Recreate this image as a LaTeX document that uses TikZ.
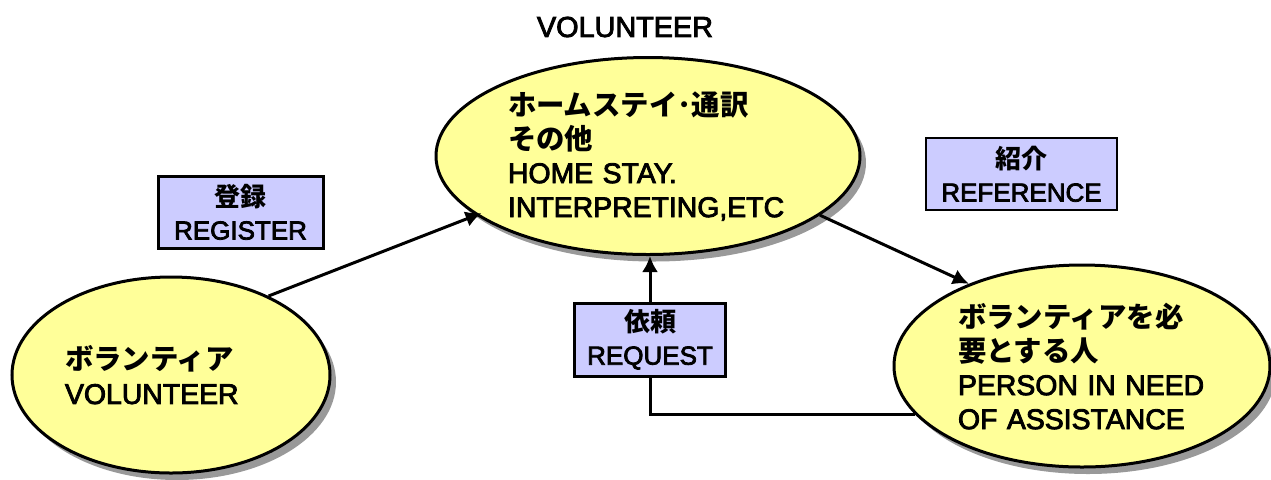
\documentclass[tikz,border=0pt]{standalone}
\usepackage{fontspec}
\setmainfont{Liberation Sans}[FakeBold=3]
\newfontfamily\jp{Noto Sans CJK JP}
\usetikzlibrary{shapes.geometric,shadows,arrows.meta}

\definecolor{bubblefill}{RGB}{255,255,153}
\definecolor{tagfill}{RGB}{204,204,255}
\newcommand{\ja}[1]{{\jp\bfseries #1}}

\begin{document}
\begin{tikzpicture}[x=0.5pt,y=-0.5pt,
    bubble/.style={ellipse,draw,line width=1.5pt,fill=bubblefill,inner sep=0pt,
      align=left,font=\fontsize{14.2pt}{17pt}\selectfont,
      drop shadow={shadow xshift=3pt,shadow yshift=-3.5pt,fill=black!40,opacity=1}},
    tag/.style={rectangle,draw,line width=1.5pt,fill=tagfill,inner sep=0pt,
      align=center,font=\fontsize{13pt}{16.5pt}\selectfont},
    link/.style={line width=1.5pt,-{Latex[length=8pt,width=8pt]}}]
    \useasboundingbox (0,0) rectangle (1271,479);

    \node[font=\fontsize{14.4pt}{17pt}\selectfont] (title) at (625,27) {VOLUNTEER};

    \node[bubble,minimum width=212pt,minimum height=98.5pt,text width=140pt]
        (top) at (648,156)
        {\ja{ホームステイ･通訳}\\\ja{その他}\\HOME STAY.\\INTERPRETING,ETC};
    \node[bubble,minimum width=159pt,minimum height=98pt,text width=106pt]
        (vol) at (171,375)
        {\ja{ボランティア}\\VOLUNTEER};
    \node[bubble,minimum width=188pt,minimum height=101pt,text width=124pt]
        (pers) at (1082,366)
        {\ja{ボランティアを必}\\\ja{要とする人}\\PERSON IN NEED\\OF ASSISTANCE};

    \node[tag,minimum width=82.5pt,minimum height=36pt] (reg) at (240.5,212) {\ja{登録}\\REGISTER};
    \node[tag,line width=0.75pt,minimum width=95.5pt,minimum height=36pt] (ref) at (1021.5,174) {\ja{紹介}\\REFERENCE};
    \node[tag,minimum width=75.5pt,minimum height=36.5pt] (req) at (650,339.5) {\ja{依頼}\\REQUEST};

    \draw[link,shorten >=-3pt] (vol.39) -- (top.199);
    \draw[link] (top.-19) -- (pers.144);
    \draw[line width=1.5pt] (pers.196) -| (req.south);
    \draw[link] (req.north) -- (req.north |- top.south);
\end{tikzpicture}
\end{document}
